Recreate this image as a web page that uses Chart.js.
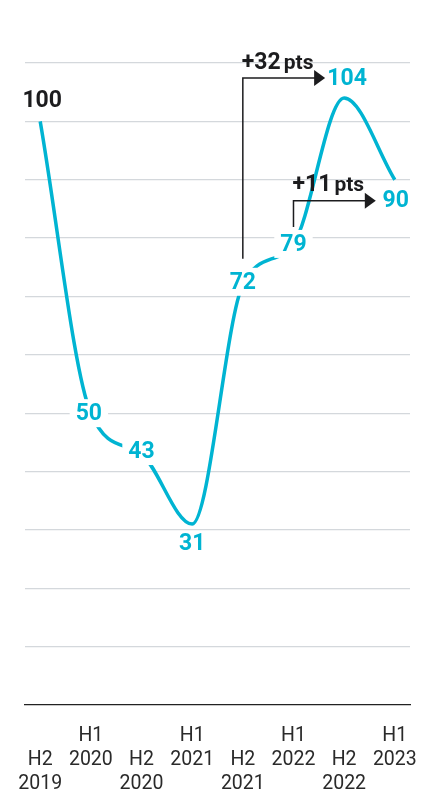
<!DOCTYPE html>
<html>
<head>
<meta charset="utf-8">
<script src="https://cdn.jsdelivr.net/npm/chart.js@4.4.1/dist/chart.umd.min.js"></script>
<style>
  html, body { margin: 0; padding: 0; background: #fff; }
  #wrap { width: 423px; height: 793px; position: relative; }
</style>
</head>
<body>
<div id="wrap"><canvas id="chart"></canvas></div>
<script>
// ---------- Data ----------
const halves = ['H2', 'H1', 'H2', 'H1', 'H2', 'H1', 'H2', 'H1'];
const years = ['2019', '2020', '2020', '2021', '2021', '2022', '2022', '2023'];
const indexValues = [100, 50, 43, 31, 72, 79, 104, 90];
const yTicks = [0, 10, 20, 30, 40, 50, 60, 70, 80, 90, 100, 110];
const changes = [
  { from: 4, to: 6, text: '+32' },   // H2 2021 -> H2 2022
  { from: 5, to: 7, text: '+11' }    // H1 2022 -> H1 2023
];

// ---------- Styles ----------
const CYAN = '#00b4d2';
const INK = '#1c1c1e';
const GRID = '#d4d8dc';
Chart.defaults.font.family = 'Roboto, "Noto Sans", sans-serif';

// where each value label sits relative to its point
const labelOffset = [
  { dx: 2, dy: -21, color: INK, box: false },
  { dx: -2, dy: 0, color: CYAN, box: true },
  { dx: 0, dy: -3, color: CYAN, box: true },
  { dx: 0, dy: 19, color: CYAN, box: false },
  { dx: 0, dy: -3, color: CYAN, box: true },
  { dx: 0, dy: 0, color: CYAN, box: true },
  { dx: 3, dy: -20, color: CYAN, box: false },
  { dx: 1, dy: 21, color: CYAN, box: false }
];
// bracket geometry, relative to the points
const bracketStyle = [
  { gapBottom: 26, topFromTo: -20, tipBack: 19, textLift: 9 },
  { gapBottom: 17, topFromTo: 21, tipBack: 19, textLift: 10 }
];

// ---------- Plugin: value labels and bracket arrows ----------
const annotate = {
  id: 'annotate',
  afterDatasetsDraw(chart) {
    const ctx = chart.ctx;
    const meta = chart.getDatasetMeta(0);
    const xs = chart.scales.x, ys = chart.scales.y;
    ctx.save();
    ctx.font = 'bold 23px Roboto, sans-serif';
    ctx.textAlign = 'center';
    ctx.textBaseline = 'middle';
    meta.data.forEach((pt, i) => {
      const o = labelOffset[i];
      const txt = String(indexValues[i]);
      const cx = pt.x + o.dx, cy = pt.y + o.dy;
      if (o.box) {
        const w = ctx.measureText(txt).width;
        ctx.fillStyle = '#fff';
        ctx.fillRect(cx - w / 2 - 6, cy - 14, w + 12, 28);
      }
      ctx.fillStyle = o.color;
      ctx.fillText(txt, cx, cy + 1);
    });

    // brackets
    changes.forEach((c, k) => {
      const s = bracketStyle[k];
      const x0 = xs.getPixelForValue(c.from);
      const yBottom = ys.getPixelForValue(indexValues[c.from]) - s.gapBottom;
      const yTop = ys.getPixelForValue(indexValues[c.to]) + s.topFromTo;
      const tipX = xs.getPixelForValue(c.to) - s.tipBack;
      ctx.strokeStyle = INK;
      ctx.lineWidth = 1.5;
      ctx.beginPath();
      ctx.moveTo(x0, yBottom);
      ctx.lineTo(x0, yTop);
      ctx.lineTo(tipX - 10, yTop);
      ctx.stroke();
      ctx.fillStyle = INK;
      ctx.beginPath();
      ctx.moveTo(tipX, yTop);
      ctx.lineTo(tipX - 11, yTop - 8);
      ctx.lineTo(tipX - 11, yTop + 8);
      ctx.closePath();
      ctx.fill();

      ctx.textAlign = 'left';
      ctx.textBaseline = 'alphabetic';
      ctx.font = 'bold 23px Roboto, sans-serif';
      const base = yTop - s.textLift;
      ctx.fillText(c.text, x0 - 1, base);
      const w = ctx.measureText(c.text).width;
      ctx.font = 'bold 21px Roboto, sans-serif';
      ctx.fillText('pts', x0 - 1 + w + 3, base);
    });
    ctx.restore();
  }
};

// ---------- Chart ----------
new Chart(document.getElementById('chart'), {
  type: 'line',
  data: {
    datasets: [{
      data: indexValues.map((v, i) => ({ x: i, y: v })),
      borderColor: CYAN,
      borderWidth: 3.5,
      pointRadius: 0,
      cubicInterpolationMode: 'monotone',
      fill: false
    }]
  },
  options: {
    responsive: true,
    maintainAspectRatio: false,
    animation: false,
    layout: { padding: { left: 25, right: 13, top: 63, bottom: 0 } },
    plugins: { legend: { display: false }, tooltip: { enabled: false } },
    scales: {
      x: {
        type: 'linear',
        min: -0.3,
        max: 7.3,
        afterBuildTicks: (scale) => { scale.ticks = halves.map((_, i) => ({ value: i })); },
        afterFit: (scale) => {
          scale.height = 88;
          scale.paddingLeft = 0;
          scale.paddingRight = 0;
        },
        grid: { display: false, drawTicks: false },
        border: { display: true, color: '#222', width: 1.3 },
        ticks: {
          autoSkip: false,
          maxRotation: 0,
          padding: 19,
          color: '#2a2a2a',
          font: { size: 19.5, lineHeight: 24 / 19.5 },
          callback: (v) => {
            const i = Math.round(v);
            return halves[i] === 'H1' ? ['H1', years[i]] : ['', 'H2', years[i]];
          }
        }
      },
      y: {
        min: 0,
        max: 110,
        afterBuildTicks: (scale) => { scale.ticks = yTicks.map(v => ({ value: v })); },
        ticks: { display: false },
        border: { display: false },
        grid: {
          drawTicks: false,
          lineWidth: 1.3,
          color: (c) => (c.tick && c.tick.value === 0 ? 'rgba(0,0,0,0)' : GRID)
        }
      }
    }
  },
  plugins: [annotate]
});
</script>
</body>
</html>
